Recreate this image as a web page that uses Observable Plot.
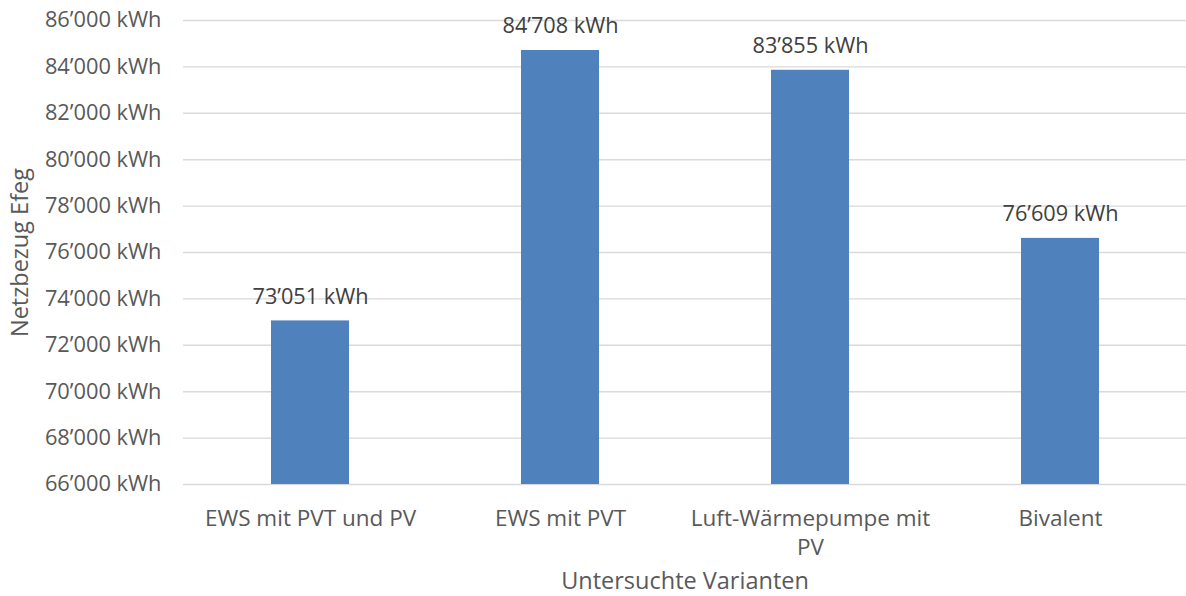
<!DOCTYPE html>
<html><head><meta charset="utf-8">
<script src="https://cdn.jsdelivr.net/npm/d3@7"></script>
<script src="https://cdn.jsdelivr.net/npm/@observablehq/plot@0.6"></script>
<style>body{margin:0;background:#fff}</style>
</head><body><div id="chart"></div>
<script>
const categories = ["EWS mit PVT und PV", "EWS mit PVT", "Luft-Wärmepumpe mit PV", "Bivalent"];
const tickLabels = ["EWS mit PVT und PV", "EWS mit PVT", "Luft-Wärmepumpe mit\nPV", "Bivalent"];
const values = [73051, 84708, 83855, 76609];
const yTicks = [66000, 68000, 70000, 72000, 74000, 76000, 78000, 80000, 82000, 84000, 86000];
const yTitle = "Netzbezug Efeg";
const xTitle = "Untersuchte Varianten";

const loc = d3.formatLocale({decimal: ".", thousands: "’", grouping: [3], currency: ["", ""]});
const fmt = v => loc.format(",")(v) + " kWh";
const data = categories.map((c, i) => ({cat: c, value: values[i]}));
const labelOf = new Map(categories.map((c, i) => [c, tickLabels[i]]));

const chart = Plot.plot({
  width: 1186, height: 596,
  marginLeft: 183, marginRight: 0, marginTop: 20, marginBottom: 112,
  style: {fontFamily: "'Open Sans', sans-serif", background: "#fff"},
  x: {domain: categories, paddingInner: 0.689, paddingOuter: 0.3445, label: null},
  y: {domain: [66000, 86000], label: null},
  marks: [
    Plot.gridY(yTicks, {stroke: "#D9D9D9", strokeOpacity: 1, strokeWidth: 1.4}),
    Plot.barY(data, {x: "cat", y1: 66000, y2: "value", fill: "#4F81BD"}),
    Plot.text(data, {x: "cat", y: "value", text: d => fmt(d.value), dy: -24, fontSize: 21.7, fill: "#404040"}),
    Plot.axisY(yTicks, {tickSize: 0, tickPadding: 22, tickFormat: fmt, fontSize: 21.8, color: "#595959", label: null}),
    Plot.axisX({tickSize: 0, tickPadding: 22, tickFormat: d => labelOf.get(d), fontSize: 22.5, lineHeight: 1.25, color: "#595959", label: null}),
    Plot.text([yTitle], {frameAnchor: "left", dx: -163, rotate: -90, textAnchor: "middle", lineAnchor: "middle", fontSize: 23.5, fill: "#595959"}),
    Plot.text([xTitle], {frameAnchor: "bottom", dy: 97, textAnchor: "middle", lineAnchor: "middle", fontSize: 23.5, fill: "#595959"})
  ]
});
document.getElementById("chart").append(chart);
</script>
</body></html>
